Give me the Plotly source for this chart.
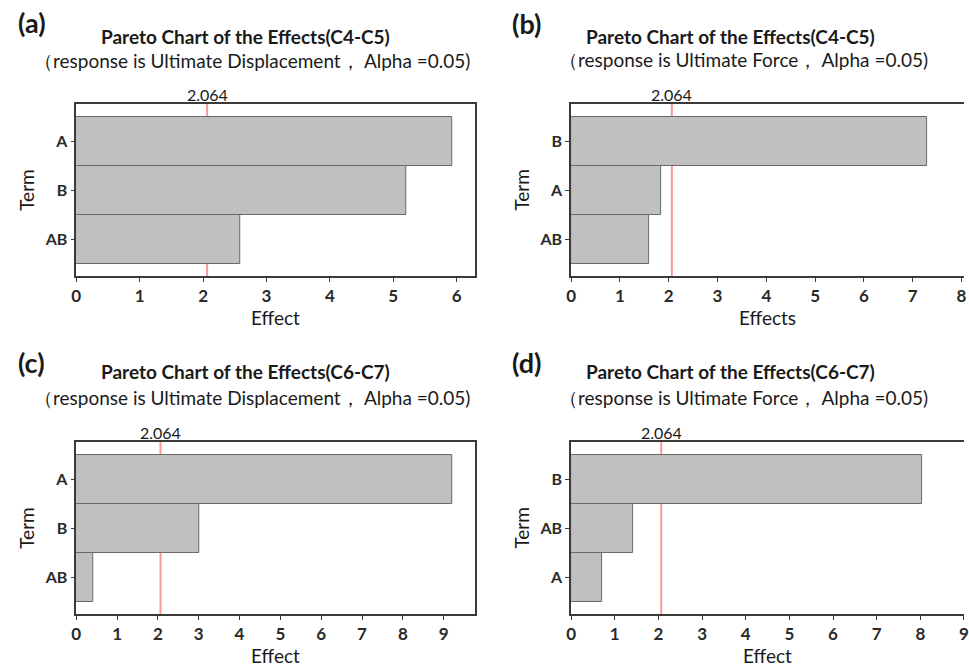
import plotly.graph_objects as go

# ---- data -------------------------------------------------------------
critical_value = 2.064

terms_a = ["A", "B", "AB"]
effects_a = [5.93, 5.21, 2.58]

terms_b = ["B", "A", "AB"]
effects_b = [7.29, 1.85, 1.59]

terms_c = ["A", "B", "AB"]
effects_c = [9.22, 3.02, 0.42]

terms_d = ["B", "AB", "A"]
effects_d = [8.04, 1.41, 0.72]

panel_letters = ["(a)", "(b)", "(c)", "(d)"]
main_titles = [
    "Pareto Chart of the Effects(C4-C5)",
    "Pareto Chart of the Effects(C4-C5)",
    "Pareto Chart of the Effects(C6-C7)",
    "Pareto Chart of the Effects(C6-C7)",
]
sub_titles = [
    "（response is Ultimate Displacement， Alpha =0.05)",
    "（response is Ultimate Force， Alpha =0.05)",
    "（response is Ultimate Displacement， Alpha =0.05)",
    "（response is Ultimate Force， Alpha =0.05)",
]
x_titles = ["Effect", "Effects", "Effect", "Effect"]
y_title = "Term"
x_max = [6.29, 8.05, 9.77, 9.0]

# ---- layout geometry (pixels) ----------------------------------------
W, H = 969, 666
FONT = "Lato, 'Open Sans', sans-serif"
INK = "#1a1a1a"
TICK_INK = "#2a2a2a"
AXIS = "#3a3a3a"
BAR_FILL = "rgb(192,192,192)"
BAR_LINE = "rgb(105,105,105)"
REF_LINE = "rgb(255,150,150)"

def px_x(p):
    return p / W

def px_y(p):
    return 1 - p / H

# plot boxes: (left, right, top, bottom) in px
boxes = [
    (72, 475, 104, 276),
    (572, 969, 104, 276),
    (72, 475, 442, 614),
    (572, 969, 442, 614),
]
# header positions: letter (x, y), title centre x, title y, subtitle centre x, subtitle y
headers = [
    ((27, 23), 243, 36, 250, 61),
    ((527, 24), 733, 36, 746, 60),
    ((27, 362), 243, 372, 250, 397),
    ((527, 362), 733, 371, 746, 397),
]

series = [
    (terms_a, effects_a),
    (terms_b, effects_b),
    (terms_c, effects_c),
    (terms_d, effects_d),
]

fig = go.Figure()
annotations = []
shapes = []

for i, (terms, effects) in enumerate(series):
    n = "" if i == 0 else str(i + 1)
    xa, ya = "x" + n, "y" + n
    left, right, top, bottom = boxes[i]

    fig.add_trace(go.Bar(
        x=effects, y=terms, orientation="h", width=1.0,
        marker=dict(color=BAR_FILL, line=dict(color=BAR_LINE, width=1)),
        xaxis=xa, yaxis=ya, showlegend=False, hoverinfo="x+y",
    ))

    partial = right >= W  # right-hand panels run off the page edge
    fig.layout["xaxis" + n] = dict(
        domain=[px_x(left), px_x(right)], anchor=ya,
        range=[0, x_max[i]], tickmode="linear", tick0=0, dtick=1,
        showgrid=False, zeroline=False,
        showline=True, linecolor=AXIS, linewidth=1.5, mirror=True,
        ticks="outside", ticklen=4, tickcolor=AXIS, tickwidth=1,
        ticklabeloverflow="allow",
        tickfont=dict(family=FONT, size=17, color=TICK_INK, weight="bold"),
    )
    fig.layout["yaxis" + n] = dict(
        domain=[px_y(bottom), px_y(top)], anchor=xa,
        type="category", categoryorder="array", categoryarray=terms[::-1],
        range=[-0.75, 2.76], showgrid=False, zeroline=False,
        showline=True, linecolor=AXIS, linewidth=1.5, mirror=not partial,
        ticks="outside", ticklen=4, tickcolor=AXIS, tickwidth=1,
        tickfont=dict(family=FONT, size=16, color=TICK_INK, weight="bold"),
    )

    # critical value reference line, behind the bars
    shapes.append(dict(
        type="line", xref=xa, yref="paper",
        x0=critical_value, x1=critical_value,
        y0=px_y(bottom), y1=px_y(top),
        line=dict(color=REF_LINE, width=2), layer="below",
    ))
    annotations.append(dict(
        text=f"{critical_value:.3f}", xref=xa, yref="paper",
        x=critical_value, y=px_y(top - 10), xanchor="center", yanchor="middle",
        showarrow=False, font=dict(family=FONT, size=16, color=INK),
    ))

    # axis titles
    annotations.append(dict(
        text=x_titles[i], xref="paper", yref="paper",
        x=px_x((left + min(right, W)) / 2), y=px_y(bottom + 41),
        xanchor="center", yanchor="middle", showarrow=False,
        font=dict(family=FONT, size=19, color=INK),
    ))
    annotations.append(dict(
        text=y_title, xref="paper", yref="paper",
        x=px_x(left - 51), y=px_y((top + bottom) / 2),
        xanchor="center", yanchor="middle", textangle=-90, showarrow=False,
        font=dict(family=FONT, size=19, color=INK),
    ))

    # panel headers
    (lx, ly), tx, ty, sx, sy = headers[i]
    annotations.append(dict(
        text=panel_letters[i], xref="paper", yref="paper",
        x=px_x(lx), y=px_y(ly), xanchor="center", yanchor="middle",
        showarrow=False, font=dict(family=FONT, size=27, color=INK, weight="bold"),
    ))
    annotations.append(dict(
        text=main_titles[i], xref="paper", yref="paper",
        x=px_x(tx), y=px_y(ty), xanchor="center", yanchor="middle",
        showarrow=False, font=dict(family=FONT, size=19, color=INK, weight="bold"),
    ))
    annotations.append(dict(
        text=sub_titles[i], xref="paper", yref="paper",
        x=px_x(sx), y=px_y(sy), xanchor="center", yanchor="middle",
        showarrow=False, font=dict(family=FONT, size=19, color=INK),
    ))

fig.update_layout(
    width=W, height=H,
    margin=dict(l=0, r=0, t=0, b=0),
    paper_bgcolor="white", plot_bgcolor="rgba(0,0,0,0)",
    bargap=0, annotations=annotations, shapes=shapes,
    font=dict(family=FONT, color=INK),
)

fig.write_html("out.html")
